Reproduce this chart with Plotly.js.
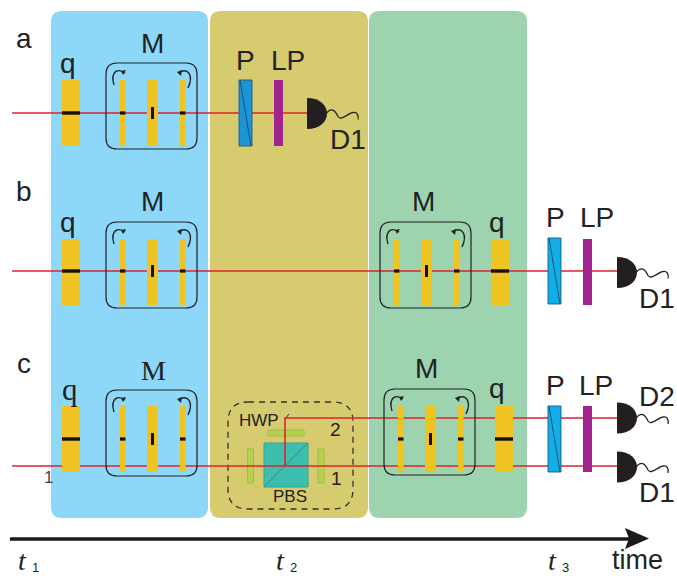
<!DOCTYPE html>
<html>
<head>
<meta charset="utf-8">
<script src="https://cdn.plot.ly/plotly-3.0.1.min.js"></script>
<style>html,body{margin:0;padding:0;background:#fff}</style>
</head>
<body>
<div id="chart" style="width:677px;height:576px"></div>
<script>
// Schematic values (picture coordinates: x right, y down)
var panelX0 = [51, 210, 369];
var panelX1 = [208, 368, 527];
var panelColors = ['#8dd7f8', '#d6cb6e', '#9dd3ae'];
var panelTop = 11, panelBottom = 518;

var modGroupX = [106, 106, 106, 380, 384];      // left edge of each M box
var modGroupTop = [63, 222, 390, 222, 389];
var modGroupMark = [113, 271, 439, 271, 439];   // y of the black marks
var plateTop = [80, 239, 406, 239, 406];

var qX = [62, 62, 62, 491, 495];
var qTop = [80, 239, 406, 239, 406];
var qMark = [113, 271, 439, 271, 439];

var polX = [239, 548, 548];
var polTop = [80, 238, 406];
var polColors = ['#1b95d6', '#12aeea', '#12aeea'];
var lpX = [274, 583, 583];
var lpTop = [80, 239, 406];

var detX = [307, 617, 617, 617];
var detY = [113.5, 272.5, 418, 467];

var rayPaths = [
  [[12, 113], [307, 113]],
  [[12, 271], [617, 271]],
  [[12, 466], [617, 466]],
  [[285, 466], [285, 418], [617, 418]]
];

var labels = [
  ['a', 24, 38, 28], ['b', 24, 191, 28], ['c', 24, 363, 28],
  ['q', 68, 63, 28], ['M', 152, 43, 28], ['P', 245, 60, 28], ['LP', 288, 60, 28], ['D1', 348, 139, 28],
  ['q', 68, 222, 28], ['M', 152, 201, 28], ['M', 423, 201, 28], ['q', 497, 222, 28],
  ['P', 555, 217, 28], ['LP', 597, 217, 28], ['D1', 657, 298, 28],
  ['M', 426, 368, 28], ['q', 497, 388, 28], ['P', 555, 385, 28], ['LP', 596, 385, 28],
  ['D2', 657, 396, 28], ['D1', 657, 492, 28],
  ['HWP', 259, 420, 17], ['2', 335, 429, 19], ['1', 336, 478, 19], ['PBS', 290, 496, 17],
  ['time', 637, 560, 27]
];
var serifLabels = [['q', 70, 389, 31], ['M', 153, 370, 28]];
var timeLabels = [['t', '1', 26, 560], ['t', '2', 284, 560], ['t', '3', 556, 560]];

var LINE = '#222222', RED = '#e0222c', YEL = '#efc322', HW = '#b6d24c';
var shapes = [];
function rect(x0, y0, x1, y1, fill, lineColor, lw) {
  shapes.push({type: 'rect', x0: x0, y0: y0, x1: x1, y1: y1, fillcolor: fill,
    line: {color: lineColor || fill, width: lw === undefined ? 0 : lw}});
}
function path(d, fill, color, w, dash) {
  shapes.push({type: 'path', path: d, fillcolor: fill || 'rgba(0,0,0,0)',
    line: {color: color || 'rgba(0,0,0,0)', width: w || 0, dash: dash || 'solid'}});
}
function seg(x0, y0, x1, y1, color, w) {
  shapes.push({type: 'line', x0: x0, y0: y0, x1: x1, y1: y1, line: {color: color, width: w}});
}
function round(x0, y0, x1, y1, r) {
  return 'M' + (x0 + r) + ',' + y0 + ' L' + (x1 - r) + ',' + y0 + ' Q' + x1 + ',' + y0 + ' ' + x1 + ',' + (y0 + r) +
    ' L' + x1 + ',' + (y1 - r) + ' Q' + x1 + ',' + y1 + ' ' + (x1 - r) + ',' + y1 +
    ' L' + (x0 + r) + ',' + y1 + ' Q' + x0 + ',' + y1 + ' ' + x0 + ',' + (y1 - r) +
    ' L' + x0 + ',' + (y0 + r) + ' Q' + x0 + ',' + y0 + ' ' + (x0 + r) + ',' + y0 + ' Z';
}

// Panels
panelX0.forEach(function (x, i) {
  path(round(x, panelTop, panelX1[i], panelBottom, 11), panelColors[i]);
});

// PBS block parts that the rays cross
rect(264, 443, 308, 487, '#3dbfb0', '#2fa596', 1);
seg(264, 487, 308, 443, '#23877c', 0.8);
rect(247.5, 449, 253.5, 483, HW, '#9cb548', 0.8);
rect(318, 449, 324, 483, HW, '#9cb548', 0.8);
rect(268, 430, 304, 436, HW, '#9cb548', 0.8);
path(round(228, 402, 353, 509, 20), null, '#333333', 1.3, '6px,5px');
seg(285, 419, 289, 414, '#333333', 1);

// Rays
rayPaths.forEach(function (r) {
  var d = r.map(function (p, i) { return (i ? 'L' : 'M') + p[0] + ',' + p[1]; }).join(' ');
  path(d, null, RED, 1.6);
});

// q plates
qX.forEach(function (x, i) {
  rect(x, qTop[i], x + 18, qTop[i] + 66, YEL);
  rect(x, qMark[i] - 1.7, x + 18, qMark[i] + 1.7, '#141008');
});

// M boxes
modGroupX.forEach(function (x, i) {
  var t = plateTop[i], m = modGroupMark[i], g = modGroupTop[i];
  rect(x + 14, t, x + 19.5, t + 66, YEL);
  rect(x + 41, t, x + 52, t + 66, YEL);
  rect(x + 74, t, x + 79.5, t + 66, YEL);
  rect(x + 14, m - 1.6, x + 19.5, m + 1.6, '#141008');
  rect(x + 45, m - 6, x + 48, m + 6, '#141008');
  rect(x + 74, m - 1.6, x + 79.5, m + 1.6, '#141008');
  path(round(x, g, x + 91, g + 86, 11), null, LINE, 1.2);
  // rotation arrows
  var ay = g + 22;
  path('M' + (x + 8) + ',' + ay + ' C' + (x + 4) + ',' + (ay - 14) + ' ' + (x + 12) + ',' + (ay - 17) + ' ' + (x + 19) + ',' + (ay - 12), null, LINE, 1.4);
  path('M' + (x + 15) + ',' + (ay - 14) + ' L' + (x + 20) + ',' + (ay - 15) + ' L' + (x + 17) + ',' + (ay - 10) + ' Z', LINE);
  path('M' + (x + 82) + ',' + (ay + 3) + ' C' + (x + 88) + ',' + (ay - 10) + ' ' + (x + 82) + ',' + (ay - 18) + ' ' + (x + 72) + ',' + (ay - 12), null, LINE, 1.4);
  path('M' + (x + 76) + ',' + (ay - 15) + ' L' + (x + 71) + ',' + (ay - 13) + ' L' + (x + 75) + ',' + (ay - 9) + ' Z', LINE);
});

// Polarizers and LP
polX.forEach(function (x, i) {
  var t = polTop[i];
  rect(x, t, x + 13, t + 66, polColors[i], '#1d5c86', 0.9);
  seg(x + 1, t, x + 12, t + 66, '#16425f', 0.8);
});
lpX.forEach(function (x, i) { rect(x, lpTop[i], x + 9, lpTop[i] + 66, '#a3238e'); });

// Detectors
detX.forEach(function (x, i) {
  var y = detY[i];
  path('M' + x + ',' + (y - 15.5) + ' C' + (x + 13) + ',' + (y - 15.5) + ' ' + (x + 20) + ',' + (y - 8) + ' ' + (x + 20) + ',' + y +
    ' C' + (x + 20) + ',' + (y + 8) + ' ' + (x + 13) + ',' + (y + 15.5) + ' ' + x + ',' + (y + 15.5) + ' Z', '#231f20');
  path('M' + (x + 19) + ',' + y + ' C' + (x + 24) + ',' + (y - 6) + ' ' + (x + 28) + ',' + (y - 4) + ' ' + (x + 31) + ',' + (y + 3) +
    ' C' + (x + 34) + ',' + (y + 8) + ' ' + (x + 42) + ',' + (y - 1) + ' ' + (x + 46) + ',' + (y - 1) +
    ' C' + (x + 50) + ',' + (y - 2) + ' ' + (x + 52) + ',' + (y + 2) + ' ' + (x + 51) + ',' + (y + 6), null, '#222222', 1.3);
});

// Time arrow
seg(10, 539, 630, 539, '#1a1a1a', 3.4);
path('M625,528 L649,538.5 L625,549 L629,538.5 Z', '#1a1a1a');

// Texts
var annotations = [];
function text(s, x, y, size, family, color) {
  annotations.push({text: s, x: x, y: y, xref: 'x', yref: 'y', showarrow: false,
    xanchor: 'center', yanchor: 'middle',
    font: {family: family || '"Liberation Sans", Arial, sans-serif', size: size, color: color || '#222222'}});
}
labels.forEach(function (l) { text(l[0], l[1], l[2], l[3]); });
serifLabels.forEach(function (l) { text(l[0], l[1], l[2], l[3], '"Liberation Serif", serif'); });
text('1', 48, 477, 17, null, '#444444');
timeLabels.forEach(function (l) {
  text('<i>' + l[0] + '</i>', l[2] - 4, l[3], 28, '"Liberation Serif", serif');
  text(l[1], l[2] + 9, l[3] + 7, 13);
});

Plotly.newPlot('chart', [{x: [0], y: [0], mode: 'markers', marker: {opacity: 0}, hoverinfo: 'skip', showlegend: false}], {
  width: 677, height: 576,
  margin: {l: 0, r: 0, t: 0, b: 0},
  paper_bgcolor: '#ffffff', plot_bgcolor: '#ffffff',
  xaxis: {range: [0, 677], visible: false, fixedrange: true},
  yaxis: {range: [576, 0], visible: false, fixedrange: true},
  showlegend: false,
  shapes: shapes,
  annotations: annotations
}, {displayModeBar: false, staticPlot: true});
</script>
</body>
</html>
